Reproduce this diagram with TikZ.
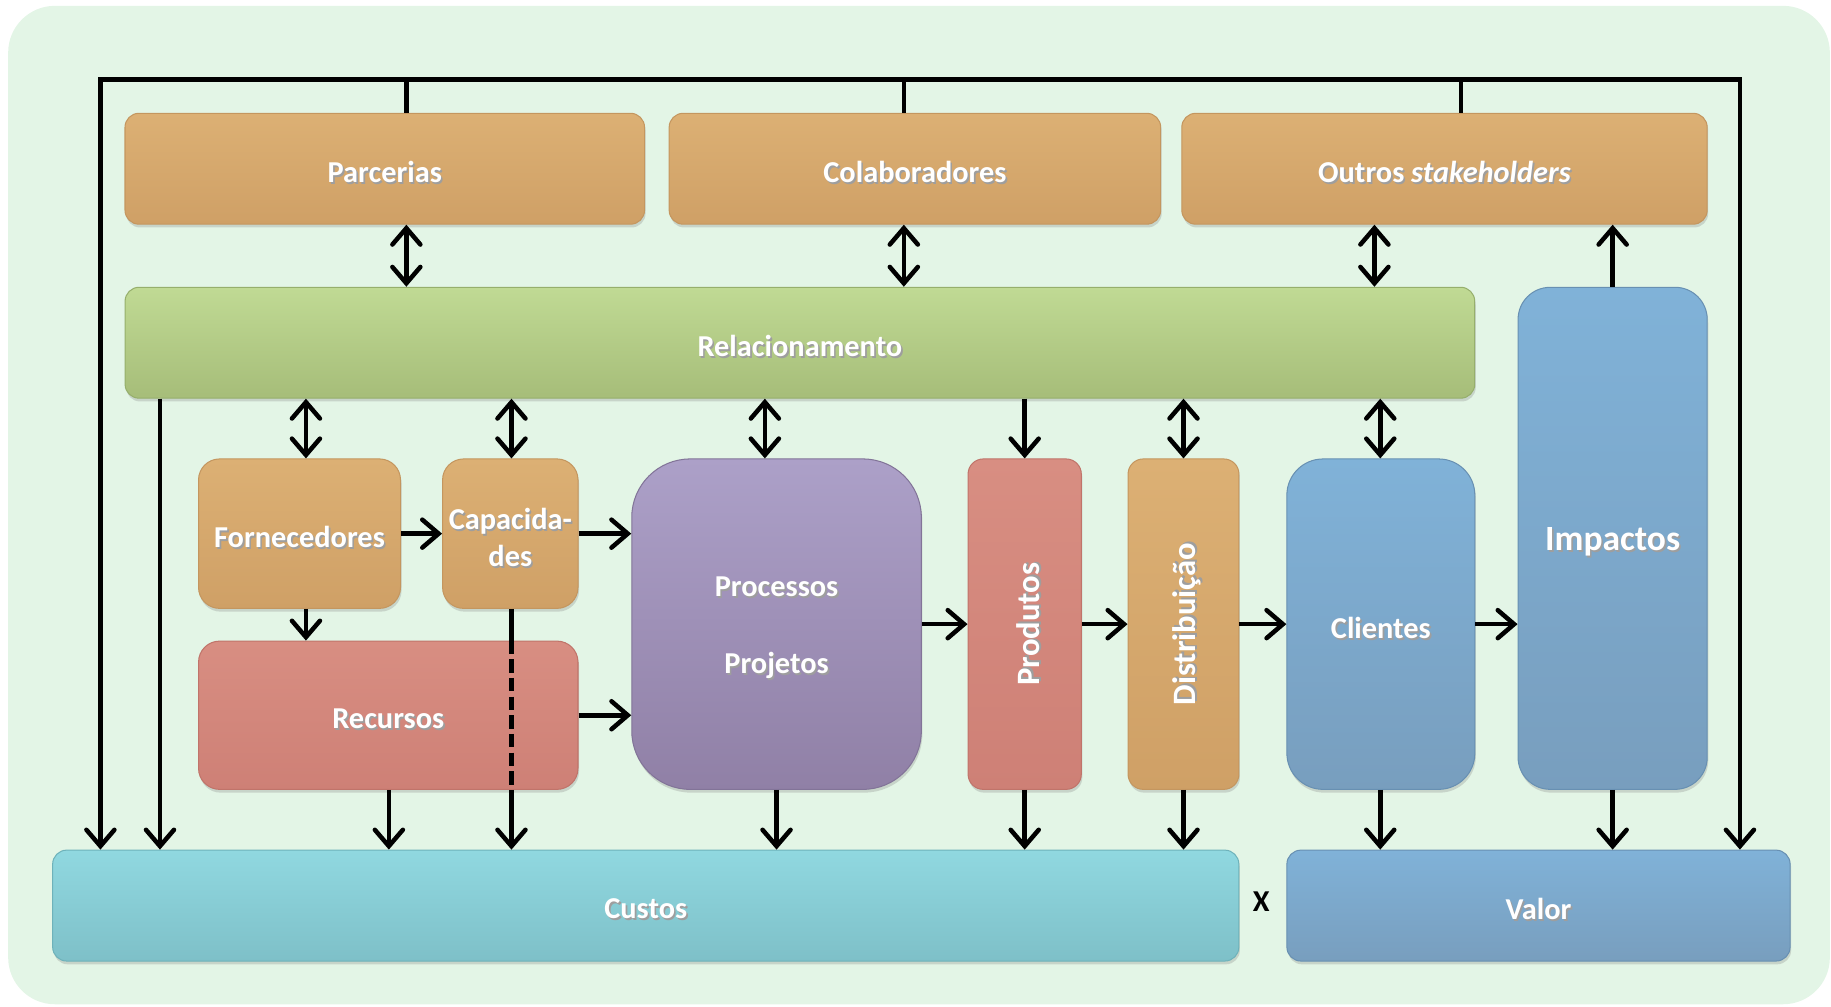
\documentclass[tikz,border=0pt]{standalone}
\usepackage{fontspec}
\setmainfont{Carlito}
\usetikzlibrary{arrows.meta,shadows}

\definecolor{bgpanel}{RGB}{227,245,230}
\definecolor{orTop}{RGB}{220,176,116}
\definecolor{orBot}{RGB}{207,160,102}
\definecolor{orEdge}{RGB}{196,150,95}
\definecolor{grTop}{RGB}{192,218,148}
\definecolor{grBot}{RGB}{166,189,121}
\definecolor{grEdge}{RGB}{150,175,108}
\definecolor{puTop}{RGB}{172,160,200}
\definecolor{puBot}{RGB}{144,128,166}
\definecolor{puEdge}{RGB}{130,116,152}
\definecolor{reTop}{RGB}{216,142,130}
\definecolor{reBot}{RGB}{206,128,118}
\definecolor{reEdge}{RGB}{192,116,106}
\definecolor{blTop}{RGB}{128,178,216}
\definecolor{blBot}{RGB}{120,158,190}
\definecolor{blEdge}{RGB}{104,144,178}
\definecolor{cyTop}{RGB}{144,216,224}
\definecolor{cyBot}{RGB}{126,192,200}
\definecolor{cyEdge}{RGB}{110,178,186}

% white label with a soft dark offset copy underneath, set a little low
\newcommand{\shtxt}[1]{\leavevmode\raisebox{-0.075cm}[\height][\depth]{\rlap{\kern0.8pt\raisebox{-1pt}{\color{black!38}#1}}#1}}

\begin{document}
\begin{tikzpicture}[x=0.02cm,y=-0.02cm,
  card/.style={text=white, align=center, inner sep=0pt, line width=0.5pt,
    font=\bfseries\fontsize{14.8}{18}\selectfont,
    drop shadow={shadow xshift=0.5pt, shadow yshift=-1.6pt, opacity=0.28}},
  orangebox/.style={card, top color=orTop, bottom color=orBot, draw=orEdge},
  greenbox/.style={card, top color=grTop, bottom color=grBot, draw=grEdge},
  purplebox/.style={card, top color=puTop, bottom color=puBot, draw=puEdge},
  redbox/.style={card, top color=reTop, bottom color=reBot, draw=reEdge},
  bluebox/.style={card, top color=blTop, bottom color=blBot, draw=blEdge},
  cyanbox/.style={card, top color=cyTop, bottom color=cyBot, draw=cyEdge},
  upright/.style={font=\bfseries\fontsize{15.9}{19}\selectfont},
  conn/.style={line width=2.2pt, line join=miter},
  tipend/.tip={Straight Barb[length=0.28cm, width=0.48cm, line cap=round]},
  arr/.style={conn, -tipend},
  dbl/.style={conn, tipend-tipend},
]
\useasboundingbox (0,0) rectangle (1568,862);
\fill[bgpanel, rounded corners=0.8cm] (7,5) rectangle (1567,860);

% column positions of the connectors
\coordinate (tl) at (86,68);
\coordinate (tr) at (1490,68);
\coordinate (cA) at (348,0);
\coordinate (cB) at (774,0);
\coordinate (cC) at (1251,0);
\coordinate (cD) at (1177,0);
\coordinate (cRel) at (137,0);
\coordinate (cF) at (262,0);
\coordinate (cK) at (438,0);
\coordinate (cPt) at (655,0);
\coordinate (cPb) at (665,0);
\coordinate (cR) at (333,0);
\coordinate (cCl) at (1182,0);

% top row
\node[orangebox, rounded corners=0.24cm, minimum width=8.9cm, minimum height=1.9cm] (parc) at (329.5,144.5) {\shtxt{Parcerias}};
\node[orangebox, rounded corners=0.24cm, minimum width=8.42cm, minimum height=1.9cm] (colab) at (783.5,144.5) {\shtxt{Colaboradores}};
\node[orangebox, rounded corners=0.24cm, minimum width=9.0cm, minimum height=1.9cm] (outros) at (1237,144.5) {\shtxt{Outros \textit{stakeholders}}};

% relationship band and impacts
\node[greenbox, rounded corners=0.24cm, minimum width=23.12cm, minimum height=1.9cm] (rel) at (685,293.5) {\shtxt{Relacionamento}};
\node[bluebox, rounded corners=0.55cm, minimum width=3.24cm, minimum height=8.6cm,
      font=\bfseries\fontsize{17.3}{20}\selectfont] (imp) at (1381,461) {\shtxt{Impactos}};

% middle row
\node[orangebox, rounded corners=0.36cm, minimum width=3.46cm, minimum height=2.56cm] (forn) at (256.5,457) {\shtxt{Fornecedores}};
\node[orangebox, rounded corners=0.36cm, minimum width=2.32cm, minimum height=2.56cm] (capa) at (437,457) {\shtxt{Capacida-}\\\shtxt{des}};
\node[redbox, rounded corners=0.36cm, minimum width=6.5cm, minimum height=2.54cm] (recu) at (332.5,612.5) {\shtxt{Recursos}};
\node[purplebox, rounded corners=1.0cm, minimum width=4.96cm, minimum height=5.66cm] (proc) at (665,534.5) {\shtxt{Processos}\\[0.68cm]\shtxt{Projetos}};
\node[redbox, upright, rounded corners=0.26cm, minimum width=1.94cm, minimum height=5.66cm] (prod) at (877.5,534.5) {\rotatebox{90}{\shtxt{Produtos}}};
\node[orangebox, upright, rounded corners=0.26cm, minimum width=1.9cm, minimum height=5.66cm] (dist) at (1013.5,534.5) {\rotatebox{90}{\shtxt{Distribuição}}};
\node[bluebox, rounded corners=0.62cm, minimum width=3.22cm, minimum height=5.66cm] (cli) at (1182.5,534.5) {\shtxt{Clientes}};

% bottom row
\node[cyanbox, rounded corners=0.24cm, minimum width=20.32cm, minimum height=1.9cm] (custos) at (553,775.5) {\shtxt{Custos}};
\node[bluebox, rounded corners=0.24cm, minimum width=8.62cm, minimum height=1.9cm] (valor) at (1317.5,775.5) {\shtxt{Valor}};
\node[font=\bfseries\fontsize{14.8}{18}\selectfont] (vezes) at (1080,772) {X};

% outer frame feeding costs and value
\draw[dbl] (custos.north -| tl) -- (tl) -- (tr) -- (valor.north -| tr);
\draw[conn] (parc.north -| cA) -- (tl -| cA);
\draw[conn] (colab.north -| cB) -- (tl -| cB);
\draw[conn] (outros.north -| cC) -- (tl -| cC);

% stakeholders <-> relationship
\draw[dbl] (parc.south -| cA) -- (rel.north -| cA);
\draw[dbl] (colab.south -| cB) -- (rel.north -| cB);
\draw[dbl] (outros.south -| cD) -- (rel.north -| cD);
\draw[arr] (imp.north) -- (outros.south -| imp.north);

% relationship <-> middle row
\draw[arr] (rel.south -| cRel) -- (custos.north -| cRel);
\draw[dbl] (rel.south -| cF) -- (forn.north -| cF);
\draw[dbl] (rel.south -| cK) -- (capa.north -| cK);
\draw[dbl] (rel.south -| cPt) -- (proc.north -| cPt);
\draw[arr] (rel.south -| prod.north) -- (prod.north);
\draw[dbl] (rel.south -| dist.north) -- (dist.north);
\draw[dbl] (rel.south -| cCl) -- (cli.north -| cCl);

% flow through the chain
\draw[arr] (forn.east) -- (capa.west);
\draw[arr] (forn.south -| cF) -- (recu.north -| cF);
\draw[arr] (capa.east) -- (capa.east -| proc.west);
\draw[arr] (recu.east) -- (recu.east -| proc.west);
\draw[arr] (proc.east) -- (prod.west);
\draw[arr] (prod.east) -- (dist.west);
\draw[arr] (dist.east) -- (cli.west);
\draw[arr] (cli.east) -- (cli.east -| imp.west);

% capabilities cost line, passing over resources
\draw[conn] (capa.south -| cK) -- (recu.north -| cK);
\draw[conn, dash pattern=on 6.5pt off 2.6pt] (recu.north -| cK) -- (recu.south -| cK);
\draw[arr] (recu.south -| cK) -- (custos.north -| cK);

% into costs and value
\draw[arr] (recu.south -| cR) -- (custos.north -| cR);
\draw[arr] (proc.south -| cPb) -- (custos.north -| cPb);
\draw[arr] (prod.south) -- (custos.north -| prod.south);
\draw[arr] (dist.south) -- (custos.north -| dist.south);
\draw[arr] (cli.south -| cCl) -- (valor.north -| cCl);
\draw[arr] (imp.south) -- (valor.north -| imp.south);
\end{tikzpicture}
\end{document}
